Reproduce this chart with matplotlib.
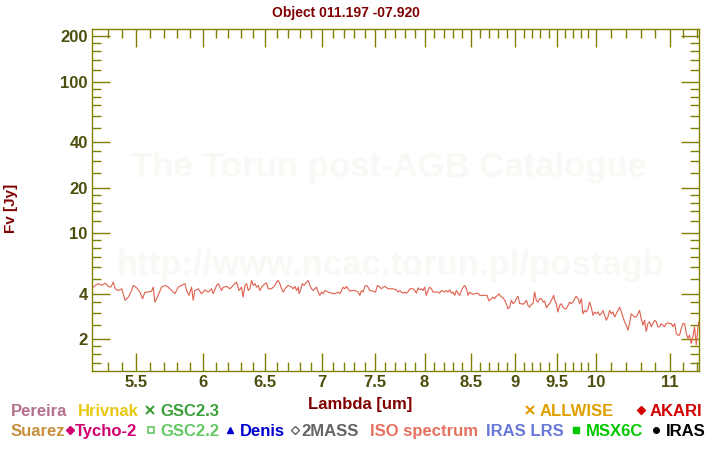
import matplotlib
matplotlib.use('Agg')
import matplotlib.pyplot as plt
from matplotlib.lines import Line2D
from matplotlib.ticker import FixedLocator, FixedFormatter, NullFormatter

# ----- data -----

title = 'Object 011.197 -07.920'

lam_iso = [
    5.190, 5.213, 5.235, 5.259, 5.281, 5.304, 5.320, 5.338, 5.350, 5.373,
    5.397, 5.420, 5.443, 5.467, 5.478, 5.503, 5.526, 5.545, 5.562, 5.586,
    5.610, 5.622, 5.634, 5.659, 5.683, 5.708, 5.733, 5.758, 5.783, 5.808,
    5.833, 5.859, 5.872, 5.889, 5.910, 5.922, 5.935, 5.961, 5.987, 6.013,
    6.039, 6.065, 6.078, 6.105, 6.118, 6.145, 6.157, 6.185, 6.211, 6.238,
    6.265, 6.286, 6.306, 6.319, 6.334,
    6.348, 6.361, 6.375, 6.389, 6.403, 6.417, 6.431, 6.445, 6.459, 6.473,
    6.487, 6.501, 6.515, 6.529, 6.557, 6.585, 6.600, 6.614, 6.628, 6.643,
    6.657, 6.672, 6.686, 6.700, 6.730, 6.744, 6.759, 6.774, 6.788, 6.797,
    6.812, 6.824, 6.841, 6.862, 6.877, 6.892, 6.907, 6.922, 6.937, 6.952,
    6.967, 6.982, 6.997, 7.012, 7.028, 7.043, 7.058, 7.089, 7.119, 7.150,
    7.166, 7.182, 7.197, 7.213, 7.228, 7.244, 7.259, 7.275, 7.307, 7.338,
    7.354, 7.370, 7.386, 7.402, 7.418, 7.434, 7.450, 7.482, 7.506, 7.525,
    7.548, 7.565, 7.581, 7.597, 7.630, 7.680, 7.713, 7.730, 7.747,
    7.764, 7.781, 7.798, 7.814, 7.831, 7.848, 7.882, 7.899, 7.916, 7.933,
    7.950, 7.968, 7.985, 8.002, 8.019, 8.036, 8.054, 8.072, 8.089, 8.107,
    8.142, 8.159, 8.177, 8.194, 8.212, 8.230, 8.248, 8.266, 8.284, 8.302,
    8.320, 8.338, 8.356, 8.374, 8.393, 8.411, 8.429, 8.448, 8.466, 8.484,
    8.503, 8.521, 8.540, 8.558, 8.577, 8.595, 8.614, 8.651, 8.677, 8.699,
    8.726, 8.744, 8.763, 8.782, 8.801, 8.812, 8.840, 8.858, 8.878, 8.897,
    8.916, 8.936, 8.956, 8.975, 8.995, 9.014, 9.033, 9.053, 9.073, 9.092,
    9.112, 9.132, 9.151, 9.171, 9.191, 9.211, 9.231, 9.251, 9.271, 9.291,
    9.312, 9.332, 9.352, 9.373, 9.393, 9.413,
    9.434, 9.454, 9.462, 9.475, 9.495, 9.515, 9.536, 9.557, 9.577, 9.598,
    9.619, 9.640, 9.661, 9.682, 9.703, 9.724, 9.745, 9.766, 9.787, 9.809,
    9.830, 9.851, 9.873, 9.894, 9.914, 9.936, 9.958, 9.979, 10.001, 10.023,
    10.044, 10.066, 10.088, 10.110, 10.132, 10.154, 10.176, 10.199, 10.220, 10.243,
    10.265, 10.287, 10.309, 10.332, 10.354, 10.376, 10.399, 10.421, 10.443, 10.466,
    10.489, 10.512, 10.535, 10.557, 10.580, 10.603, 10.626, 10.649, 10.672, 10.695,
    10.718, 10.742, 10.765, 10.789, 10.812, 10.836, 10.859, 10.883, 10.907, 10.930,
    10.954, 10.978, 11.001, 11.026, 11.050, 11.074, 11.098, 11.122, 11.145, 11.170,
    11.194, 11.218, 11.243, 11.267, 11.290, 11.315, 11.340, 11.364, 11.389, 11.414,
    11.429,
]

flux_iso = [
    4.31, 4.54, 4.66, 4.54, 4.70, 4.47, 4.42, 4.77, 4.31, 4.20,
    4.31, 3.62, 3.80, 4.20, 4.54, 4.37, 4.10, 3.71, 4.10, 4.10,
    4.16, 4.42, 3.52, 3.90, 4.42, 4.54, 4.42, 4.20, 4.00, 4.42,
    4.54, 4.66, 4.20, 3.90, 4.42, 3.62, 4.20, 4.31, 4.00, 4.24,
    4.10, 4.31, 4.00, 4.54, 4.66, 4.20, 4.42, 4.47, 4.31, 4.54,
    4.77, 4.20, 4.42, 3.80, 4.54,
    4.66, 4.20, 4.31, 4.89, 4.54, 4.66, 4.42, 4.54, 4.20, 4.42,
    4.54, 4.66, 4.70, 4.31, 4.31, 4.54, 4.77, 4.89, 4.66, 4.31,
    4.10, 4.31, 4.42, 4.54, 4.42, 4.31, 4.47, 4.20, 4.42, 4.00,
    4.31, 4.66, 4.54, 4.77, 4.89, 4.54, 4.31, 4.20, 4.31, 4.42,
    4.10, 3.90, 4.10, 4.00, 4.20, 4.16, 4.10, 4.03, 4.00, 4.10,
    4.00, 4.20, 4.42, 4.31, 4.47, 4.31, 4.16, 4.20, 4.20, 4.10,
    3.90, 4.20, 4.10, 4.47, 4.54, 4.42, 4.20, 4.16, 4.10, 4.54,
    4.42, 4.31, 4.42, 4.47, 4.31, 4.31, 4.24, 4.10, 4.20,
    4.10, 4.03, 4.10, 4.03, 4.14, 4.31, 4.31, 4.20, 4.03, 4.37,
    4.24, 4.31, 4.20, 4.42, 3.90, 4.20, 4.42, 4.31, 4.10, 4.10,
    4.10, 4.03, 4.20, 4.16, 4.10, 4.20, 4.10, 4.24, 4.03, 4.10,
    3.90, 4.20, 4.03, 3.90, 4.20, 4.42, 4.54, 4.31, 3.90, 4.10,
    4.00, 3.96, 4.00, 4.03, 4.03, 3.90, 3.90, 3.90, 3.90, 3.58,
    3.71, 3.80, 3.71, 3.85, 3.90, 4.00, 3.80, 3.77, 3.62, 3.44,
    3.18, 3.26, 3.62, 3.44, 3.52, 3.71, 3.85, 3.44, 3.44, 3.40,
    3.48, 3.62, 3.35, 3.26, 3.40, 3.44, 4.10, 3.62, 3.52, 3.71,
    3.71, 3.52, 3.58, 3.23, 3.35, 3.44,
    3.62, 3.80, 3.90, 3.62, 3.44, 3.03, 3.35, 3.44, 3.26, 3.18,
    3.18, 3.35, 3.52, 3.44, 3.52, 3.71, 3.85, 3.71, 3.44, 3.71,
    2.95, 3.10, 3.03, 3.18, 3.52, 3.26, 2.88, 3.03, 2.95, 3.03,
    2.88, 2.95, 3.10, 2.88, 2.67, 2.81, 3.10, 2.95, 3.03, 2.81,
    2.95, 3.10, 3.26, 3.03, 2.81, 2.61, 2.48, 2.30, 2.54, 2.95,
    2.88, 2.81, 2.81, 2.95, 3.10, 2.74, 2.48, 2.67, 2.25, 2.54,
    2.61, 2.42, 2.54, 2.67, 2.61, 2.42, 2.42, 2.54, 2.48, 2.42,
    2.54, 2.57, 2.54, 2.54, 2.42, 2.54, 2.18, 2.13, 2.13, 2.36,
    2.54, 2.54, 2.18, 2.03, 2.13, 1.88, 2.08, 2.42, 1.84, 2.42,
    2.61,
]

x_major = [5.5, 6, 6.5, 7, 7.5, 8, 8.5, 9, 9.5, 10, 11]
x_labels = ['5.5', '6', '6.5', '7', '7.5', '8', '8.5', '9', '9.5', '10', '11']
x_minor = [5.3, 5.4, 5.6, 5.7, 5.8, 5.9, 6.1, 6.2, 6.3, 6.4, 6.6, 6.7, 6.8, 6.9,
           7.1, 7.2, 7.3, 7.4, 7.6, 7.7, 7.8, 7.9, 8.1, 8.2, 8.3, 8.4, 8.6, 8.7,
           8.8, 8.9, 9.1, 9.2, 9.3, 9.4, 9.6, 9.7, 9.8, 9.9, 10.2, 10.4, 10.6,
           10.8, 11.2, 11.4]

y_major = [2, 4, 10, 20, 40, 100, 200]
y_labels = ['2', '4', '10', '20', '40', '100', '200']
y_minor = [1.4, 1.6, 1.8, 2.5, 3, 3.5, 5, 6, 7, 8, 9, 12, 14, 16, 18, 25, 30, 35,
           50, 60, 70, 80, 90, 120, 140, 160, 180]

# legend rows at the bottom: (label, colour, marker)
legend_row1 = [('Pereira', '#b4708c', None), ('Hrivnak', '#e8c810', None),
               ('GSC2.3', '#3ca03c', 'x'), ('ALLWISE', '#e0a000', 'x'),
               ('AKARI', '#d20000', 'D')]
legend_row2 = [('Suarez', '#c8903c', None), ('Tycho-2', '#d0006e', 'D'),
               ('GSC2.2', '#64c864', 's_open'), ('Denis', '#0000d2', '^'),
               ('2MASS', '#646464', 'D_open'), ('ISO spectrum', '#e6705e', None),
               ('IRAS LRS', '#6878d8', None), ('MSX6C', '#00c800', 's'),
               ('IRAS', '#000000', 'o')]

# ----- figure -----

W, H = 720, 450
plt.rcParams['font.family'] = ['Liberation Sans', 'DejaVu Sans']
plt.rcParams['font.weight'] = 'bold'

def fx(px):
    return px / W

def fy(py):
    return 1 - py / H

olive = '#808000'
dark_red = '#800000'
wm_color = '#faf8f4'

fig = plt.figure(figsize=(W / 100, H / 100), dpi=100)
ax = fig.add_axes([fx(92), fy(371), (699 - 92) / W, (371 - 29) / H])

ax.plot(lam_iso, flux_iso, color='#e0604e', lw=0.8, zorder=3)

ax.set_xscale('log')
ax.set_yscale('log')
ax.set_xlim(5.192, 11.43)
ax.set_ylim(1.235, 224)

ax.xaxis.set_major_locator(FixedLocator(x_major))
ax.xaxis.set_major_formatter(FixedFormatter(x_labels))
ax.xaxis.set_minor_locator(FixedLocator(x_minor))
ax.xaxis.set_minor_formatter(NullFormatter())
ax.yaxis.set_major_locator(FixedLocator(y_major))
ax.yaxis.set_major_formatter(FixedFormatter(y_labels))
ax.yaxis.set_minor_locator(FixedLocator(y_minor))
ax.yaxis.set_minor_formatter(NullFormatter())

ax.tick_params(which='both', direction='in', top=True, right=True,
               color=olive, width=1)
ax.tick_params(which='major', length=13, labelsize=12, labelcolor='#4d4d0d', pad=3)
ax.tick_params(which='minor', length=6.5)
for s in ax.spines.values():
    s.set_color(olive)
    s.set_linewidth(1)

# watermark
ax.text(fx(389), fy(177), 'The Torun post-AGB Catalogue', transform=fig.transFigure,
        ha='center', va='baseline', fontsize=25, color=wm_color, zorder=0)
ax.text(fx(391), fy(275), 'http://www.ncac.torun.pl/postagb', transform=fig.transFigure,
        ha='center', va='baseline', fontsize=25, color=wm_color, zorder=0)

fig.text(fx(346), fy(17), title, ha='center', va='baseline', fontsize=10, color=dark_red)
fig.text(fx(360), fy(409), 'Lambda [um]', ha='center', va='baseline', fontsize=12, color=dark_red)
fig.text(fx(11), fy(208), 'Fv [Jy]', rotation=90, ha='center', va='center',
         fontsize=11, color=dark_red)

# bottom legend
row1_x = [(10.7, None), (77.7, None), (160.7, 150), (540, 530), (650, 641)]
row2_x = [(10.7, None), (75, 70), (160.7, 151), (240, 230), (301, 295),
          (370, None), (486, None), (586, 576), (666, 655.5)]

def put_marker(x, y, kind, color):
    if kind == 'x':
        m = Line2D([fx(x)], [fy(y)], marker='x', markersize=5.5, color=color,
                   markeredgewidth=1.5)
    elif kind == 'D':
        m = Line2D([fx(x)], [fy(y)], marker='D', markersize=4.5, color=color)
    elif kind == 'D_open':
        m = Line2D([fx(x)], [fy(y)], marker='D', markersize=4.5, color=color,
                   markerfacecolor='none', markeredgewidth=1)
    elif kind == 's_open':
        m = Line2D([fx(x)], [fy(y)], marker='s', markersize=4.5, color=color,
                   markerfacecolor='none', markeredgewidth=1.2)
    elif kind == 's':
        m = Line2D([fx(x)], [fy(y)], marker='s', markersize=4.5, color=color)
    elif kind == '^':
        m = Line2D([fx(x)], [fy(y)], marker='^', markersize=5, color=color)
    else:
        m = Line2D([fx(x)], [fy(y)], marker='o', markersize=4, color=color)
    m.set_transform(fig.transFigure)
    fig.add_artist(m)

for (label, color, kind), (tx, mx) in zip(legend_row1, row1_x):
    fig.text(fx(tx), fy(416), label, ha='left', va='baseline', fontsize=12, color=color)
    if kind:
        put_marker(mx, 410, kind, color)

for (label, color, kind), (tx, mx) in zip(legend_row2, row2_x):
    fig.text(fx(tx), fy(435.7), label, ha='left', va='baseline', fontsize=12, color=color)
    if kind:
        put_marker(mx, 430, kind, color)

fig.savefig('out.png', dpi=100)
